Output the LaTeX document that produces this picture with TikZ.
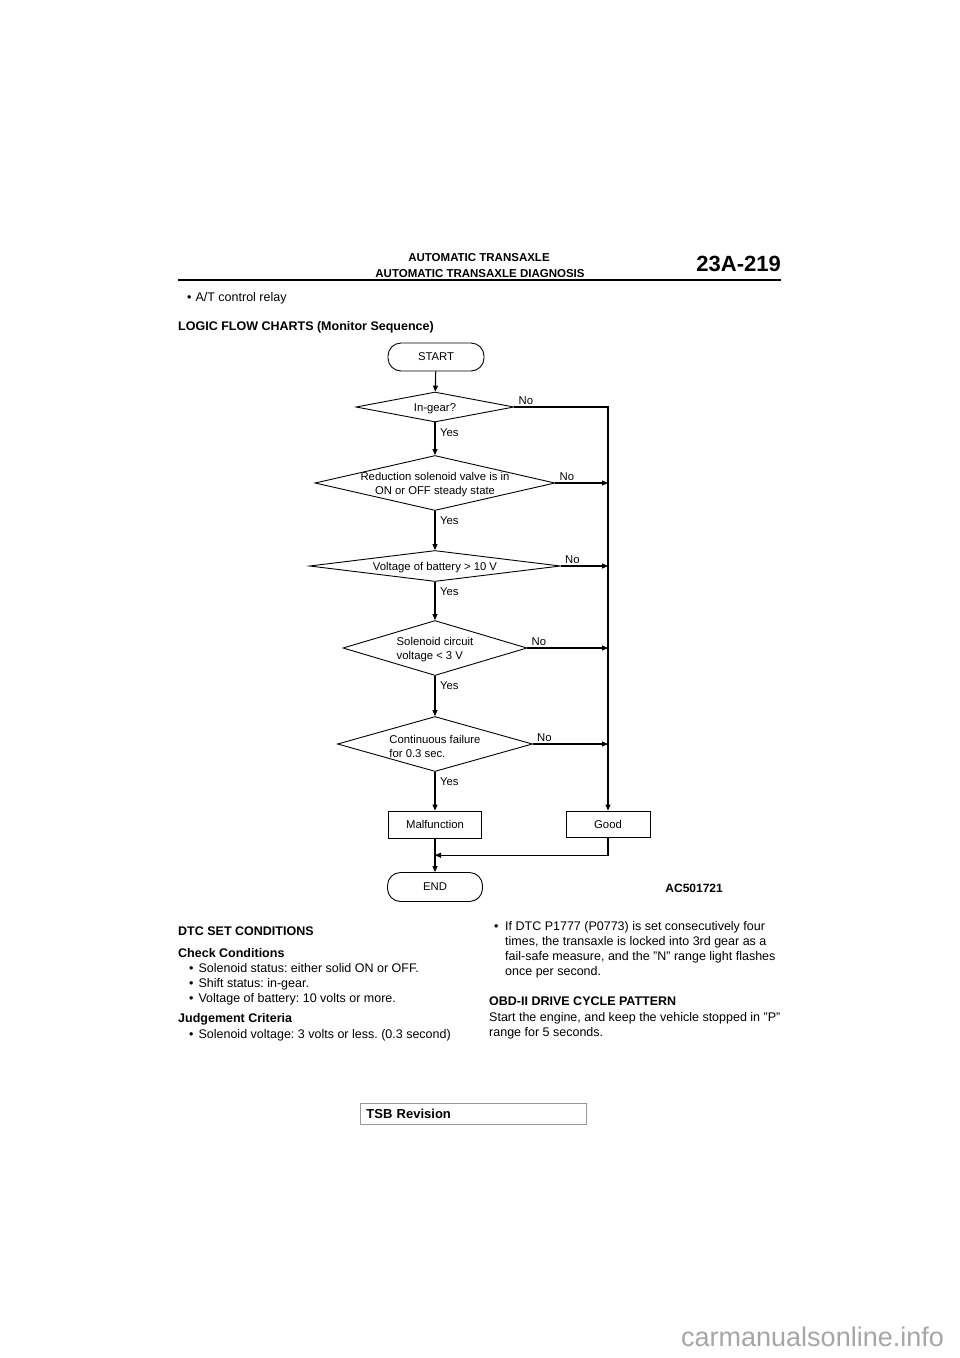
\documentclass[tikz,border=0pt]{standalone}
\usepackage{fontspec}
\setmainfont{Liberation Sans}
\frenchspacing
\usetikzlibrary{shapes.geometric,arrows.meta,calc}
\begin{document}
\begin{tikzpicture}[x=1pt,y=-1pt,
  body/.style={font=\fontsize{12.5}{15}\selectfont, inner sep=0pt, anchor=base west},
  bodyb/.style={body, font=\fontsize{12.5}{15}\selectfont\bfseries},
  hdr/.style={font=\fontsize{11.5}{14}\selectfont\bfseries, inner sep=0pt, anchor=base},
  ft/.style={font=\fontsize{11.3}{14}\selectfont, inner sep=0pt},
  dtext/.style={ft, yshift=-2pt},
  lbl/.style={ft, anchor=base west},
  dia/.style={draw, diamond, inner sep=0pt, line width=0.9pt},
  term/.style={draw, rectangle, rounded corners=13pt, minimum width=96pt, minimum height=28pt, line width=0.9pt, ft, text depth=1pt},
  boxn/.style={draw, rectangle, line width=0.8pt, minimum height=27pt, ft},
  ln/.style={line width=1.1pt},
  arr/.style={ln, -{Triangle[length=6pt,width=5pt]}}]
\fill[white] (0,0) rectangle (960,1358);
\useasboundingbox (0,0) rectangle (960,1358);

% header
\node[hdr] (h1) at (479,261) {AUTOMATIC TRANSAXLE};
\node[hdr] (h2) at (480,277) {AUTOMATIC TRANSAXLE DIAGNOSIS};
\node[font=\fontsize{22}{26}\selectfont\bfseries, inner sep=0pt, anchor=base east] (pg) at (781,271) {23A-219};
\draw[line width=2.5pt] (178,280) -- (781,280);

\node[body] (t0) at (187,301) {•\hspace{4pt}A/T control relay};
\node[bodyb] (t1) at (178,330) {LOGIC FLOW CHARTS (Monitor Sequence)};

% flowchart
\node[term, minimum width=96pt, minimum height=28pt] (start) at (436,357) {START};
\node[dia, minimum width=158pt, minimum height=30pt] (d1) at (435,407) {};
\node[dtext] at (d1) {In-gear?};
\node[dia, minimum width=240pt, minimum height=55pt] (d2) at (435,483) {};
\node[dtext, align=center] at (d2) {Reduction solenoid valve is in\\ON or OFF steady state};
\node[dia, minimum width=251pt, minimum height=31pt] (d3) at (435,566) {};
\node[dtext] at (d3) {Voltage of battery > 10 V};
\node[dia, minimum width=184pt, minimum height=55pt] (d4) at (435,648) {};
\node[dtext, align=left] at (d4) {Solenoid circuit\\voltage < 3 V};
\node[dia, minimum width=195pt, minimum height=55pt] (d5) at (435,744) {};
\node[dtext, align=left] at (d5) {Continuous failure\\for 0.3 sec.};
\node[boxn, minimum width=93pt] (malf) at (435,824.5) {Malfunction};
\node[boxn, minimum width=84pt, minimum height=26pt] (good) at (608,824) {Good};
\node[term, minimum width=95pt, minimum height=29pt] (end) at (435,887) {END};
\coordinate (join) at ($(malf.south)!0.5!(end.north)$);

\draw[arr] (start) -- (d1);
\draw[arr] (d1) -- (d2);
\draw[arr] (d2) -- (d3);
\draw[arr] (d3) -- (d4);
\draw[arr] (d4) -- (d5);
\draw[arr] (d5) -- (malf);
\draw[arr] (malf) -- (end);
\draw[arr] (d1.east) -| (good.north);
\draw[arr] (d2.east) -- (d2.east -| good.north);
\draw[arr] (d3.east) -- (d3.east -| good.north);
\draw[arr] (d4.east) -- (d4.east -| good.north);
\draw[arr] (d5.east) -- (d5.east -| good.north);
\draw[arr] (good.south) |- (join);

\foreach \d in {d1,d2,d3,d4,d5}{
  \node[lbl] at ([xshift=4pt,yshift=3pt]\d.east) {No};
  \node[lbl] at ([xshift=5pt,yshift=-14pt]\d.south) {Yes};
}
\node[font=\fontsize{12}{14}\selectfont\bfseries, inner sep=0pt, anchor=base east] (ac) at (723,892) {AC501721};

% left column
\node[bodyb] (s1) at (178,935) {DTC SET CONDITIONS};
\node[bodyb] (s2) at (178,957) {Check Conditions};
\node[body] at (189,972) {•\hspace{5pt}Solenoid status: either solid ON or OFF.};
\node[body] at (189,987) {•\hspace{5pt}Shift status: in-gear.};
\node[body] at (189,1002) {•\hspace{5pt}Voltage of battery: 10 volts or more.};
\node[bodyb] (s3) at (178,1022) {Judgement Criteria};
\node[body] at (189,1038) {•\hspace{5pt}Solenoid voltage: 3 volts or less. (0.3 second)};

% right column
\node[body] at (494,930) {•};
\node[body] at (505,930) {If DTC P1777 (P0773) is set consecutively four};
\node[body] at (505,945) {times, the transaxle is locked into 3rd gear as a};
\node[body] at (505,960) {fail-safe measure, and the "N" range light flashes};
\node[body] at (505,975) {once per second.};
\node[bodyb] at (489,1005) {OBD-II DRIVE CYCLE PATTERN};
\node[body] at (489,1021) {Start the engine, and keep the vehicle stopped in "P"};
\node[body] at (489,1036) {range for 5 seconds.};

% footer
\node[draw=gray!80, line width=0.8pt, minimum height=21pt, inner xsep=6pt, text width=214pt, align=left, anchor=north west, font=\fontsize{13}{15}\selectfont\bfseries] (tsb) at (360,1103) {TSB Revision};
\node[anchor=base west, inner sep=0pt, font=\fontsize{27}{30}\selectfont, text=gray!70] (wm) at (681,1346) {carmanualsonline.info};
\end{tikzpicture}
\end{document}
